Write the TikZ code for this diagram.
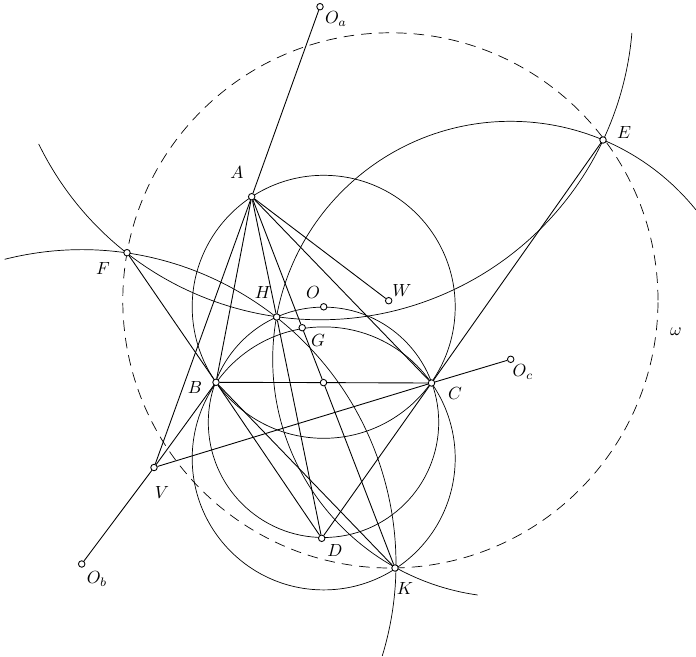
\documentclass[tikz,border=0pt]{standalone}
\usetikzlibrary{backgrounds}

\tikzset{
  pt/.style={circle, draw, fill=white, inner sep=0pt, minimum size=0.13cm},
  omega/.style={dash pattern=on 6pt off 4pt, line width=0.4pt},
}

\begin{document}
\begin{tikzpicture}[x=0.02cm, y=0.02cm, line width=0.5pt]
        \useasboundingbox (0,0) rectangle (696,-656);

        % points of the figure
        \node[pt] (A) at (251.7,-196.7) {};
        \node[pt] (B) at (216,-382.3) {};
        \node[pt] (C) at (431.5,-383) {};
        \node[pt] (M) at (323.5,-382.6) {};
        \node[pt] (H) at (276.7,-317) {};
        \node[pt] (O) at (323.7,-306.8) {};
        \node[pt] (G) at (302.2,-327.7) {};
        \node[pt] (W) at (388.7,-300.7) {};
        \node[pt] (D) at (321.7,-538.3) {};
        \node[pt] (K) at (395,-568) {};
        \node[pt] (E) at (603,-140) {};
        \node[pt] (F) at (127,-252.7) {};
        \node[pt] (V) at (154,-467.5) {};
        \node[pt] (Oa) at (320,-6.7) {};
        \node[pt] (Ob) at (81.7,-564) {};
        \node[pt] (Oc) at (510.7,-359.3) {};
        \coordinate (Ot) at (323.7,-458.4);
        \coordinate (Od) at (323.5,-422.3);
        \coordinate (Ow) at (390.4,-300.4);

        % circles and arcs
        \begin{scope}[on background layer]
          \draw (O.center) circle[radius=131.5];
          \draw (Ot) circle[radius=131.5];
          \draw (Od) circle[radius=115.2];
          \draw[omega] (Ow) circle[radius=267.6];
          \draw (Oa.center) ++(206:313) arc[start angle=206, end angle=355.2, radius=313];
          \draw (Ob.center) ++(104.2:314.3) arc[start angle=104.2, end angle=-17, radius=314.3];
          \draw (Oc.center) ++(38.9:238) arc[start angle=38.9, end angle=262, radius=238];
        \end{scope}

        % lines
        \draw (Oa) -- (A) -- (V);
        \draw (Ob) -- (V) -- (B);
        \draw (V) -- (C) -- (Oc);
        \draw (F) -- (B) -- (D);
        \draw (E) -- (C) -- (D);
        \draw (B) -- (M) -- (C);
        \draw (A) -- (B);
        \draw (A) -- (C);
        \draw (A) -- (H) -- (D);
        \draw (A) -- (G) -- (M) -- (K);
        \draw (B) -- (K);
        \draw (A) -- (W);

        % labels
        \node (tA) at (237,-172) {$A$};
        \node (tB) at (195,-387) {$B$};
        \node (tC) at (455,-393) {$C$};
        \node (tD) at (335,-550) {$D$};
        \node (tE) at (624,-132) {$E$};
        \node (tF) at (103,-268) {$F$};
        \node (tG) at (318,-340) {$G$};
        \node (tH) at (263,-292) {$H$};
        \node (tK) at (405,-588) {$K$};
        \node (tO) at (313,-292) {$O$};
        \node (tV) at (162,-492) {$V$};
        \node (tW) at (402,-290) {$W$};
        \node (tOa) at (336,-19) {$O_a$};
        \node (tOb) at (97,-579) {$O_b$};
        \node (tOc) at (523,-372) {$O_c$};
        \node (tw) at (676,-332) {$\omega$};
\end{tikzpicture}
\end{document}
